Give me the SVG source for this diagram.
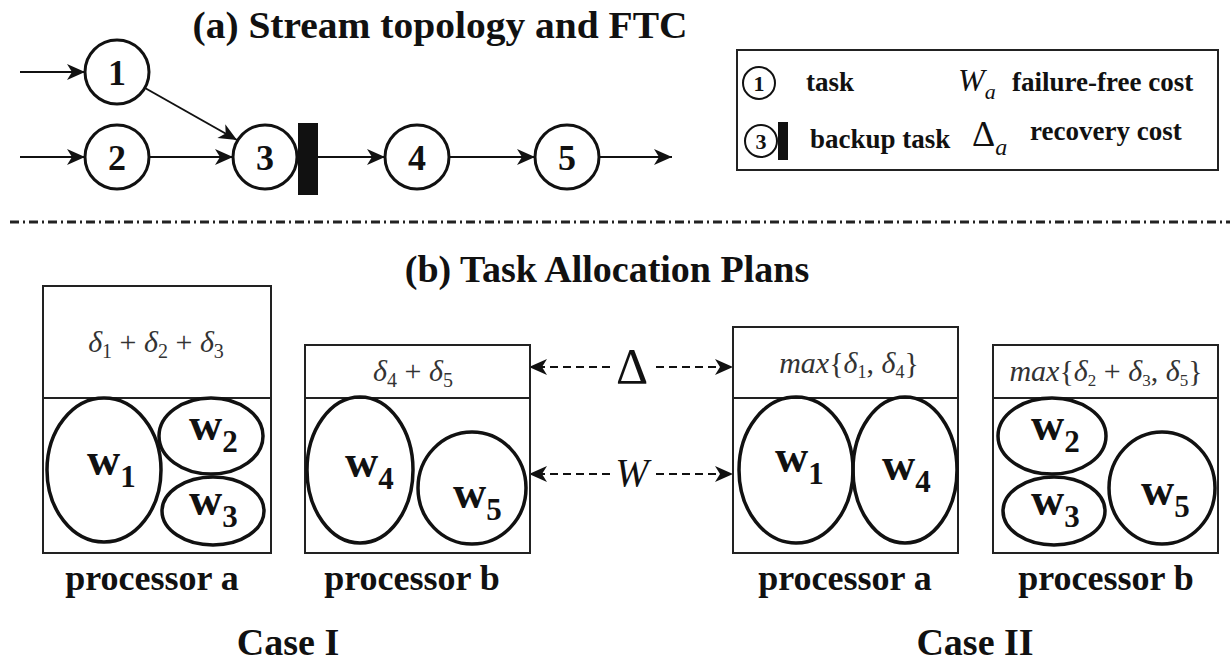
<svg xmlns="http://www.w3.org/2000/svg" width="1230" height="661" viewBox="0 0 1230 661">
<style>
.title{font-family:"Liberation Serif",serif;font-weight:bold;font-size:38px;fill:#111}
.num{font-family:"Liberation Serif",serif;font-weight:bold;font-size:36px;fill:#111;text-anchor:middle}
.node{fill:#fff;stroke:#111;stroke-width:3}
.edge{stroke:#111;stroke-width:2;fill:none}
.leg{font-family:"Liberation Serif",serif;font-weight:bold;font-size:27px;fill:#111}
.box{fill:#fff;stroke:#222;stroke-width:2}
.ell{fill:none;stroke:#111;stroke-width:3.5}
.w{font-family:"Liberation Serif",serif;font-weight:bold;font-size:46px;fill:#111}
.sub{font-size:31px}
.math{font-family:"Liberation Serif",serif;font-size:30px;fill:#333;text-anchor:middle}
.it{font-style:italic}
.proc{font-family:"Liberation Serif",serif;font-weight:bold;font-size:36px;fill:#111;text-anchor:middle}
.dash{stroke:#111;stroke-width:2;stroke-dasharray:8 5;fill:none}
</style>
<defs>
<marker id="ah" viewBox="-20 -10 22 20" refX="0" refY="0" markerWidth="22" markerHeight="20" markerUnits="userSpaceOnUse" orient="auto">
<path d="M0,0 L-18,-8 L-13,0 L-18,8 Z" fill="#111"/>
</marker>
</defs>
<rect width="1230" height="661" fill="#fff"/>

<text class="title" x="440" y="38" text-anchor="middle" textLength="495" lengthAdjust="spacingAndGlyphs">(a) Stream topology and FTC</text>

<g id="connectors">
<line class="edge" x1="20" y1="72" x2="85" y2="72" marker-end="url(#ah)"/>
<line class="edge" x1="20" y1="157" x2="85" y2="157" marker-end="url(#ah)"/>
<line class="edge" x1="145" y1="88" x2="237" y2="140" marker-end="url(#ah)"/>
<line class="edge" x1="149" y1="157" x2="233" y2="157" marker-end="url(#ah)"/>
<line class="edge" x1="318" y1="157" x2="385" y2="157" marker-end="url(#ah)"/>
<line class="edge" x1="449" y1="157" x2="535" y2="157" marker-end="url(#ah)"/>
<line class="edge" x1="599" y1="157" x2="672" y2="157" marker-end="url(#ah)"/>
<line class="dash" x1="610" y1="367" x2="529" y2="367" marker-end="url(#ah)"/>
<line class="dash" x1="656" y1="367" x2="733" y2="367" marker-end="url(#ah)"/>
<line class="dash" x1="610" y1="474" x2="529" y2="474" marker-end="url(#ah)"/>
<line class="dash" x1="656" y1="474" x2="733" y2="474" marker-end="url(#ah)"/>
</g>

<g id="n1"><circle class="node" cx="117" cy="72" r="32"/><text class="num" x="117" y="85">1</text></g>
<g id="n2"><circle class="node" cx="117" cy="157" r="32"/><text class="num" x="117" y="170">2</text></g>
<g id="n3"><circle class="node" cx="265" cy="157" r="32"/><text class="num" x="265" y="170">3</text><rect x="298" y="123" width="20" height="72" fill="#111"/></g>
<g id="n4"><circle class="node" cx="417" cy="157" r="32"/><text class="num" x="417" y="170">4</text></g>
<g id="n5"><circle class="node" cx="567" cy="157" r="32"/><text class="num" x="567" y="170">5</text></g>

<g id="legend">
<rect x="737" y="50" width="481" height="120" fill="#fff" stroke="#222" stroke-width="2"/>
<circle cx="759" cy="83" r="16" fill="#fff" stroke="#111" stroke-width="2"/>
<text x="759" y="91" font-family="Liberation Serif, serif" font-weight="bold" font-size="22" text-anchor="middle" fill="#111">1</text>
<text class="leg" x="806" y="91">task</text>
<text x="958" y="91" font-family="Liberation Serif, serif" font-style="italic" font-size="32" fill="#111">W<tspan font-size="22" dy="8">a</tspan></text>
<text class="leg" x="1012" y="91">failure-free cost</text>
<circle cx="761" cy="141" r="16" fill="#fff" stroke="#111" stroke-width="2"/>
<text x="761" y="149" font-family="Liberation Serif, serif" font-weight="bold" font-size="22" text-anchor="middle" fill="#111">3</text>
<rect x="778" y="122" width="10" height="38" fill="#111"/>
<text class="leg" x="810" y="148">backup task</text>
<text x="972" y="146" font-family="Liberation Serif, serif" font-size="36" fill="#111">Δ<tspan font-style="italic" font-size="24" dy="9">a</tspan></text>
<text class="leg" x="1030" y="140">recovery cost</text>
</g>

<line x1="10" y1="222" x2="1230" y2="222" stroke="#222" stroke-width="3" stroke-dasharray="9 4 2 4"/>

<text class="title" x="607" y="282" text-anchor="middle">(b) Task Allocation Plans</text>

<g id="procIa">
<rect class="box" x="43" y="286" width="228" height="267"/>
<line x1="43" y1="398" x2="271" y2="398" stroke="#222" stroke-width="2"/>
<text class="math" x="156" y="352"><tspan class="it">δ</tspan><tspan font-size="20" dy="6">1</tspan><tspan dy="-6"> + </tspan><tspan class="it">δ</tspan><tspan font-size="20" dy="6">2</tspan><tspan dy="-6"> + </tspan><tspan class="it">δ</tspan><tspan font-size="20" dy="6">3</tspan></text>
<ellipse class="ell" cx="104" cy="470" rx="57" ry="72"/>
<ellipse class="ell" cx="211" cy="436" rx="52" ry="38"/>
<ellipse class="ell" cx="213" cy="511" rx="51" ry="34"/>
<text class="w" x="87" y="475">w<tspan class="sub" dy="12">1</tspan></text>
<text class="w" x="189" y="440">w<tspan class="sub" dy="12">2</tspan></text>
<text class="w" x="189" y="515">w<tspan class="sub" dy="12">3</tspan></text>
<text class="proc" x="152" y="590">processor a</text>
</g>

<g id="procIb">
<rect class="box" x="305" y="345" width="225" height="208"/>
<line x1="305" y1="398" x2="530" y2="398" stroke="#222" stroke-width="2"/>
<text class="math" x="413" y="381"><tspan class="it">δ</tspan><tspan font-size="20" dy="6">4</tspan><tspan dy="-6"> + </tspan><tspan class="it">δ</tspan><tspan font-size="20" dy="6">5</tspan></text>
<ellipse class="ell" cx="360" cy="470" rx="53" ry="73"/>
<ellipse class="ell" cx="472" cy="488" rx="54" ry="56"/>
<text class="w" x="345" y="477">w<tspan class="sub" dy="12">4</tspan></text>
<text class="w" x="453" y="508">w<tspan class="sub" dy="12">5</tspan></text>
<text class="proc" x="412" y="590">processor b</text>
</g>

<g id="procIIa">
<rect class="box" x="733" y="327" width="225" height="226"/>
<line x1="733" y1="398" x2="958" y2="398" stroke="#222" stroke-width="2"/>
<text class="math" x="849" y="373" font-size="26"><tspan class="it">max</tspan>{<tspan class="it">δ</tspan><tspan font-size="18" dy="5">1</tspan><tspan dy="-5">, </tspan><tspan class="it">δ</tspan><tspan font-size="18" dy="5">4</tspan><tspan dy="-5">}</tspan></text>
<ellipse class="ell" cx="796" cy="470" rx="57" ry="73"/>
<ellipse class="ell" cx="905" cy="470" rx="52" ry="73"/>
<text class="w" x="775" y="472">w<tspan class="sub" dy="12">1</tspan></text>
<text class="w" x="882" y="480">w<tspan class="sub" dy="12">4</tspan></text>
<text class="proc" x="845" y="590">processor a</text>
</g>

<g id="procIIb">
<rect class="box" x="993" y="345" width="225" height="208"/>
<line x1="993" y1="398" x2="1218" y2="398" stroke="#222" stroke-width="2"/>
<text class="math" x="1106" y="381" font-size="24"><tspan class="it">max</tspan>{<tspan class="it">δ</tspan><tspan font-size="17" dy="5">2</tspan><tspan dy="-5"> + </tspan><tspan class="it">δ</tspan><tspan font-size="17" dy="5">3</tspan><tspan dy="-5">, </tspan><tspan class="it">δ</tspan><tspan font-size="17" dy="5">5</tspan><tspan dy="-5">}</tspan></text>
<ellipse class="ell" cx="1052" cy="436" rx="54" ry="38"/>
<ellipse class="ell" cx="1054" cy="511" rx="51" ry="34"/>
<ellipse class="ell" cx="1162" cy="488" rx="53" ry="56"/>
<text class="w" x="1031" y="440">w<tspan class="sub" dy="12">2</tspan></text>
<text class="w" x="1031" y="515">w<tspan class="sub" dy="12">3</tspan></text>
<text class="w" x="1141" y="505">w<tspan class="sub" dy="12">5</tspan></text>
<text class="proc" x="1106" y="590">processor b</text>
</g>

<g id="symbols">
<text x="632" y="383" font-family="Liberation Serif, serif" font-size="50" text-anchor="middle" fill="#111">Δ</text>
<text x="632" y="486" font-family="Liberation Serif, serif" font-style="italic" font-size="40" text-anchor="middle" fill="#111">W</text>
</g>

<text class="title" x="288" y="655" text-anchor="middle">Case I</text>
<text class="title" x="975" y="655" text-anchor="middle">Case II</text>
</svg>
